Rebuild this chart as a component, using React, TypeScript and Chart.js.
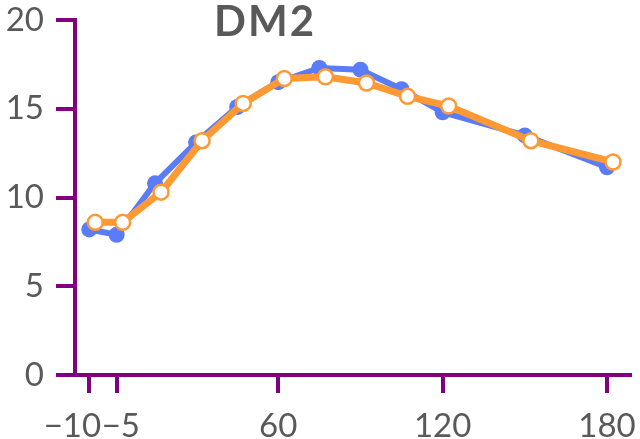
import React, { useEffect, useRef } from "react";
import { Chart, registerables } from "chart.js";

Chart.register(...registerables);

// ---- data ----
const TITLE = "DM2";
const times = [-10, -5, 15, 30, 45, 60, 75, 90, 105, 120, 150, 180];
const seriesA = [8.2, 7.9, 10.8, 13.1, 15.1, 16.5, 17.3, 17.2, 16.1, 14.8, 13.5, 11.7];
const seriesB = [8.6, 8.6, 10.3, 13.2, 15.3, 16.7, 16.8, 16.45, 15.7, 15.15, 13.2, 12.0];
const xTickTimes = [-10, -5, 60, 120, 180];
const xTickLabels = ["\u221210    ", " \u22125", "60", "120", "180"];
const yTicks = [0, 5, 10, 15, 20];

// ---- styling / layout ----
const BLUE = "#5B7CF7";
const ORANGE = "#FF9933";
const PURPLE = "#800080";
const TEXT = "#595959";
const FONT = "Lato";
const DODGE = 2.2; // horizontal offset of second series (axis units)

// broken x axis: the pre-baseline segment is drawn stretched next to 0
function axisPos(t: number): number {
  return t >= 0 ? t : (t + 5) * 2 + 1;
}

const titlePlugin = {
  id: "titleText",
  afterDraw(chart: any) {
    const ctx = chart.ctx;
    ctx.save();
    ctx.font = `bold 42px ${FONT}`;
    (ctx as any).letterSpacing = "2px";
    ctx.fillStyle = TEXT;
    ctx.textAlign = "center";
    ctx.textBaseline = "middle";
    ctx.fillText(TITLE, 265, 22);
    ctx.restore();
  },
};

export default function App() {
  const ref = useRef<HTMLCanvasElement | null>(null);

  useEffect(() => {
    document.body.style.margin = "0";
    const canvas = ref.current;
    if (!canvas) return;
    const chart = new Chart(canvas, {
      type: "line",
      data: {
        datasets: [
          {
            label: "A",
            data: times.map((t, i) => ({ x: axisPos(t), y: seriesA[i] })),
            borderColor: BLUE,
            backgroundColor: BLUE,
            borderWidth: 6,
            pointRadius: 8,
            pointBackgroundColor: BLUE,
            pointBorderColor: BLUE,
            pointBorderWidth: 0,
            tension: 0,
            order: 2,
            clip: false as any,
          },
          {
            label: "B",
            data: times.map((t, i) => ({ x: axisPos(t) + DODGE, y: seriesB[i] })),
            borderColor: ORANGE,
            backgroundColor: "#ffffff",
            borderWidth: 7,
            pointRadius: 7.5,
            pointBackgroundColor: "#ffffff",
            pointBorderColor: ORANGE,
            pointBorderWidth: 2.5,
            tension: 0,
            order: 1,
            clip: false as any,
          },
        ],
      },
      options: {
        animation: false,
        responsive: false,
        events: [],
        layout: { padding: { top: 0, right: 8, left: 0, bottom: 0 } },
        plugins: {
          legend: { display: false },
          tooltip: { enabled: false },
          title: { display: false },
        },
        scales: {
          x: {
            type: "linear",
            min: -14.2,
            max: 188.4,
            afterBuildTicks: (axis: any) => {
              axis.ticks = xTickTimes.map((t) => ({ value: axisPos(t) }));
            },
            afterFit: (scale: any) => {
              scale.height = 64;
            },
            grid: {
              drawOnChartArea: false,
              drawTicks: true,
              tickLength: 18,
              color: PURPLE,
              lineWidth: 4,
            },
            border: { display: true, color: PURPLE, width: 4 },
            ticks: {
              autoSkip: false,
              maxRotation: 0,
              minRotation: 0,
              padding: 3,
              color: TEXT,
              font: { family: FONT, size: 33, lineHeight: 1.85 },
              callback: (_v: any, i: number) => xTickLabels[i],
            },
          },
          y: {
            type: "linear",
            min: 0,
            max: 20,
            afterBuildTicks: (axis: any) => {
              axis.ticks = yTicks.map((v) => ({ value: v }));
            },
            afterFit: (scale: any) => {
              scale.width = 75;
            },
            grid: {
              drawOnChartArea: false,
              drawTicks: true,
              tickLength: 19,
              color: PURPLE,
              lineWidth: 4,
            },
            border: { display: true, color: PURPLE, width: 4 },
            ticks: {
              padding: 12,
              color: TEXT,
              font: { family: FONT, size: 33, lineHeight: 0.485 },
            },
          },
        },
      },
      plugins: [titlePlugin],
    });
    return () => chart.destroy();
  }, []);

  return (
    <canvas
      ref={ref}
      width={640}
      height={439}
      style={{ display: "block", width: 640, height: 439 }}
    />
  );
}
